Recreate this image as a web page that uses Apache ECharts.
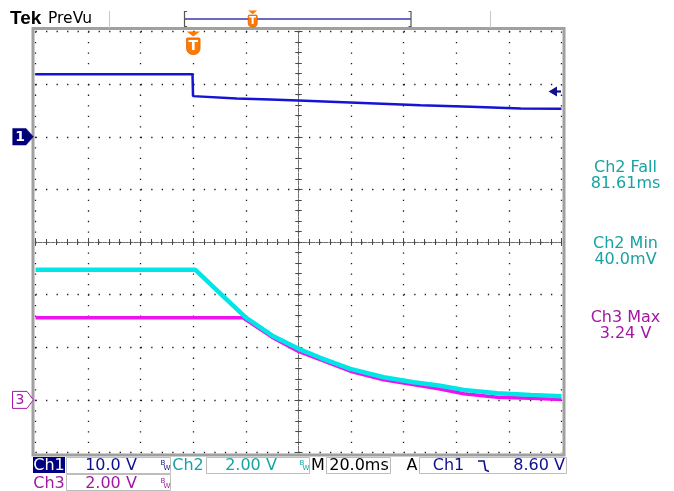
<!DOCTYPE html>
<html>
<head>
<meta charset="utf-8">
<script src="https://cdn.jsdelivr.net/npm/echarts@6/dist/echarts.min.js"></script>
<style>
  html, body { margin: 0; padding: 0; background: #ffffff; }
  #scope { width: 674px; height: 491px; }
</style>
</head>
<body>
<div id="scope"></div>
<script>
// ---- acquisition data (time in ms, volts) ----
const ch1Time  = [-60, -0.3, -0.1, 16.5, 29.2, 40.0, 86.4, 105.5, 124.5, 140];
const ch1Volts = [11.9, 11.9, 7.72, 7.28, 7.09, 6.90, 6.00, 5.68, 5.37, 5.30];

const ch2Time  = [-60, 0.7, 10.2, 19.7, 29.9, 40.0, 48.3, 59.7, 72.4, 83.8, 93.3, 102.9, 115.6, 128.3, 140];
const ch2Volts = [4.95, 4.95, 4.05, 3.15, 2.45, 1.94, 1.60, 1.18, 0.86, 0.67, 0.545, 0.38, 0.25, 0.19, 0.14];

const ch3Time  = [-60, 18.9, 29.9, 40.0, 59.7, 72.4, 93.3, 102.9, 115.6, 128.3, 140];
const ch3Volts = [3.12, 3.12, 2.385, 1.84, 1.09, 0.76, 0.42, 0.23, 0.10, 0.06, 0.01];

// ---- vertical / horizontal settings ----
const chNames     = ['Ch1', 'Ch2', 'Ch3'];
const chScaleText = ['10.0 V', '2.00 V', '2.00 V'];
const chVoltsDiv  = [10, 2, 2];
const chGroundDiv = [2, -3, -3];          // ground position, divisions from centre
const timeDiv     = 20;                    // ms / div
const timeText    = '20.0ms';
const trigTimeDiv = -2;                    // trigger point, divisions from centre
const trigSource  = 'Ch1';
const trigLevel   = 8.6;
const trigText    = '8.60 V';

// ---- automatic measurements ----
const measNames  = ['Ch2 Fall', 'Ch2 Min', 'Ch3 Max'];
const measValues = ['81.61ms', '40.0mV', '3.24 V'];
const measChan   = [1, 1, 2];

const COLORS = ['#1414d2', '#00e6e6', '#ee12ee'];
const TEXT_COLORS = ['#10108c', '#17a3a3', '#a317a3'];

const GRID = { left: 35.5, top: 31.5, width: 526, height: 421 };
const HDIV = 10, VDIV = 8;

const zip = (a, b) => a.map((v, i) => [v, b[i]]);

function voltAxis(ch) {
  // value range covering the screen for one channel
  const lo = (-VDIV / 2 - chGroundDiv[ch]) * chVoltsDiv[ch];
  const hi = (VDIV / 2 - chGroundDiv[ch]) * chVoltsDiv[ch];
  return { type: 'value', min: lo, max: hi, show: false };
}

const tMin = (-HDIV / 2 - trigTimeDiv) * timeDiv;
const tMax = (HDIV / 2 - trigTimeDiv) * timeDiv;

const DOT = [1.3, GRID.width / HDIV / 5 - 1.3];
const tickCol = '#4a4a4a';
const centreLine = { show: true, onZero: true, onZeroAxisIndex: 0, lineStyle: { color: '#6a6a6a', width: 1, type: [1, 1.6] } };

function gratAxis(dim, pos, opts) {
  const half = dim === 'x' ? HDIV / 2 : VDIV / 2;
  return Object.assign({
    type: 'value', min: -half, max: half, interval: 1, position: pos,
    axisLabel: { show: false },
    axisLine: { show: true, lineStyle: { color: '#6a6a6a', width: 1, type: [1, 1.6] } },
    axisTick: { show: true, inside: true, length: 4, lineStyle: { color: tickCol } },
    minorTick: { show: true, splitNumber: 5, length: 3, lineStyle: { color: tickCol } },
    splitLine: { show: false }
  }, opts || {});
}

const chart = echarts.init(document.getElementById('scope'), null, { renderer: 'canvas' });

chart.setOption({
  animation: false,
  backgroundColor: '#ffffff',
  grid: Object.assign({ containLabel: false }, GRID),
  xAxis: [
    gratAxis('x', 'bottom', { splitLine: { show: true, lineStyle: { color: '#1a1a1a', width: 1.3, type: DOT } } }),
    gratAxis('x', 'top'),
    gratAxis('x', 'bottom', { axisLine: centreLine, axisTick: { show: true, inside: true, length: 3, lineStyle: { color: tickCol } } }),
    gratAxis('x', 'top',    { axisLine: centreLine, axisTick: { show: true, inside: true, length: 3, lineStyle: { color: tickCol } } }),
    { type: 'value', min: tMin, max: tMax, show: false }
  ],
  yAxis: [
    gratAxis('y', 'left', { splitLine: { show: true, lineStyle: { color: '#1a1a1a', width: 1.3, type: DOT } } }),
    gratAxis('y', 'right'),
    gratAxis('y', 'left',  { axisLine: centreLine, axisTick: { show: true, inside: true, length: 3, lineStyle: { color: tickCol } } }),
    gratAxis('y', 'right', { axisLine: centreLine, axisTick: { show: true, inside: true, length: 3, lineStyle: { color: tickCol } } }),
    voltAxis(0),
    voltAxis(1)
  ],
  series: [
    { name: 'Ch3', type: 'line', xAxisIndex: 4, yAxisIndex: 5, data: zip(ch3Time, ch3Volts),
      showSymbol: false, silent: true, lineStyle: { color: COLORS[2], width: 3.5 } },
    { name: 'Ch2', type: 'line', xAxisIndex: 4, yAxisIndex: 5, data: zip(ch2Time, ch2Volts),
      showSymbol: false, silent: true, lineStyle: { color: COLORS[1], width: 4.5 } },
    { name: 'Ch1', type: 'line', xAxisIndex: 4, yAxisIndex: 4, data: zip(ch1Time, ch1Volts),
      showSymbol: false, silent: true, lineStyle: { color: COLORS[0], width: 2.5 } }
  ]
});

// ---- screen annotations placed from the axis scales ----
const trigX   = chart.convertToPixel({ xAxisIndex: 4 }, 0);
const gnd1Y   = chart.convertToPixel({ yAxisIndex: 4 }, 0);
const gnd3Y   = chart.convertToPixel({ yAxisIndex: 5 }, 0);
const levelY  = chart.convertToPixel({ yAxisIndex: 4 }, trigLevel);
const gR = GRID.left + GRID.width, gB = GRID.top + GRID.height;

const FONT = 'DejaVu Sans';
const g = [];

// frame
g.push({ type: 'rect', silent: true, z: 10,
  shape: { x: GRID.left - 2.5, y: GRID.top - 3, width: GRID.width + 5, height: GRID.height + 5.5 },
  style: { fill: null, stroke: '#a0a0a0', lineWidth: 3 } });

// title
g.push({ type: 'text', z: 10, style: { text: 'Tek', x: 10, y: 19, font: 'bold 19px "Liberation Sans"', fill: '#000', verticalAlign: 'middle' } });
g.push({ type: 'text', z: 10, style: { text: 'PreVu', x: 48, y: 18.5, font: '15.5px ' + FONT, fill: '#000', verticalAlign: 'middle' } });
g.push({ type: 'line', z: 10, shape: { x1: 109.5, y1: 11, x2: 109.5, y2: 28 }, style: { stroke: '#c8c8c8', lineWidth: 1 } });
g.push({ type: 'line', z: 10, shape: { x1: 490.5, y1: 11, x2: 490.5, y2: 28 }, style: { stroke: '#c8c8c8', lineWidth: 1 } });

// record bracket
g.push({ type: 'line', z: 10, shape: { x1: 185, y1: 19, x2: 411, y2: 19 }, style: { stroke: '#6a6ac4', lineWidth: 2 } });
g.push({ type: 'polyline', z: 10, shape: { points: [[187, 11.5], [184.5, 11.5], [184.5, 26.5], [187, 26.5]] }, style: { stroke: '#555', lineWidth: 1.2, fill: null } });
g.push({ type: 'polyline', z: 10, shape: { points: [[408.5, 11.5], [411, 11.5], [411, 26.5], [408.5, 26.5]] }, style: { stroke: '#555', lineWidth: 1.2, fill: null } });

function tMarker(cx, top, w, h, fs) {
  g.push({ type: 'polygon', z: 12, shape: { points: [[cx - w / 2, top], [cx + w / 2, top], [cx, top + h * 0.22]] },
    style: { fill: '#ff7a00' } });
  g.push({ type: 'rect', z: 12, shape: { x: cx - w / 2, y: top + h * 0.28, width: w, height: h * 0.72, r: [1, 1, w / 2.2, w / 2.2] },
    style: { fill: '#ff7a00', stroke: '#e06000', lineWidth: 0.8 } });
  g.push({ type: 'text', z: 13, style: { text: 'T', x: cx, y: top + h * 0.28 + h * 0.36, font: 'bold ' + fs + 'px ' + FONT,
    fill: '#ffffff', align: 'center', verticalAlign: 'middle' } });
}
tMarker(252.7, 10.5, 9, 16.5, 10);
tMarker(trigX, GRID.top, 13.5, 23, 14);

// channel ground markers
g.push({ type: 'polygon', z: 12,
  shape: { points: [[12.7, gnd1Y - 8.3], [26, gnd1Y - 8.3], [33.3, gnd1Y], [26, gnd1Y + 8.3], [12.7, gnd1Y + 8.3]] },
  style: { fill: '#00007a', stroke: '#00007a', lineWidth: 0.5 } });
g.push({ type: 'text', z: 13, style: { text: '1', x: 20, y: gnd1Y + 0.5, font: 'bold 14px ' + FONT, fill: '#fff', align: 'center', verticalAlign: 'middle' } });
g.push({ type: 'polygon', z: 12,
  shape: { points: [[12.5, gnd3Y - 8.5], [27, gnd3Y - 8.5], [33.3, gnd3Y], [27, gnd3Y + 8.5], [12.5, gnd3Y + 8.5]] },
  style: { fill: '#fff', stroke: '#a317a3', lineWidth: 1 } });
g.push({ type: 'text', z: 13, style: { text: '3', x: 20, y: gnd3Y + 0.5, font: '14px ' + FONT, fill: '#a317a3', align: 'center', verticalAlign: 'middle' } });

// trigger level arrow
g.push({ type: 'polygon', z: 12, shape: { points: [[548.5, levelY], [557, levelY - 5], [557, levelY + 5]] }, style: { fill: '#10108c' } });
g.push({ type: 'line', z: 12, shape: { x1: 555, y1: levelY, x2: gR - 0.5, y2: levelY }, style: { stroke: '#10108c', lineWidth: 2.2 } });

// measurement readouts
const measY = [166.5, 243, 317];
measNames.forEach((n, i) => {
  const col = TEXT_COLORS[measChan[i]];
  g.push({ type: 'text', z: 10, style: { text: n, x: 625.5, y: measY[i] + 1, font: '16px ' + FONT, fill: col, align: 'center', verticalAlign: 'middle' } });
  g.push({ type: 'text', z: 10, style: { text: measValues[i], x: 625.5, y: measY[i] + 17, font: '16px ' + FONT, fill: col, align: 'center', verticalAlign: 'middle' } });
});

// status bar
const r1 = 466, r2 = 484;
function txt(t, x, y, col, align) {
  g.push({ type: 'text', z: 10, style: { text: t, x: x, y: y, font: '16px ' + FONT, fill: col, align: align || 'center', verticalAlign: 'middle' } });
}
function box(x, y, w, h) {
  g.push({ type: 'rect', z: 9, shape: { x: x, y: y, width: w, height: h }, style: { fill: null, stroke: '#bdbdbd', lineWidth: 1 } });
}
function bw(x, y, col) {
  g.push({ type: 'text', z: 10, style: { text: 'B', x: x, y: y - 3, font: '7px ' + FONT, fill: col, align: 'center', verticalAlign: 'middle' } });
  g.push({ type: 'text', z: 10, style: { text: 'W', x: x + 4, y: y + 2, font: '7px ' + FONT, fill: col, align: 'center', verticalAlign: 'middle' } });
}
g.push({ type: 'rect', z: 9, shape: { x: 33, y: 457, width: 32, height: 16 }, style: { fill: '#00007f' } });
txt(chNames[0], 49, r1, '#ffffff');
box(66.5, 457.5, 104, 16);
txt(chScaleText[0], 111, r1, TEXT_COLORS[0]);
bw(163, r1, TEXT_COLORS[0]);
txt(chNames[1], 188, r1, TEXT_COLORS[1]);
box(206.5, 457.5, 103, 16);
txt(chScaleText[1], 251, r1, TEXT_COLORS[1]);
bw(302, r1, TEXT_COLORS[1]);
txt('M', 318, r1, '#000');
box(326.5, 457.5, 64, 16);
txt(timeText, 359, r1, '#000');
txt('A', 412, r1, '#000');
box(419.5, 457.5, 147, 16);
txt(trigSource, 448.5, r1, TEXT_COLORS[0]);
g.push({ type: 'polyline', z: 10, shape: { points: [[478, 461], [484, 461], [485.5, 470], [489, 471.5]] }, style: { stroke: '#10108c', lineWidth: 1.6, fill: null } });
txt(trigText, 565, r1, TEXT_COLORS[0], 'right');
txt(chNames[2], 49, r2, TEXT_COLORS[2]);
box(66.5, 474.5, 104, 16);
txt(chScaleText[2], 111, r2, TEXT_COLORS[2]);
bw(163, r2, TEXT_COLORS[2]);

chart.setOption({ graphic: g });
</script>
</body>
</html>
